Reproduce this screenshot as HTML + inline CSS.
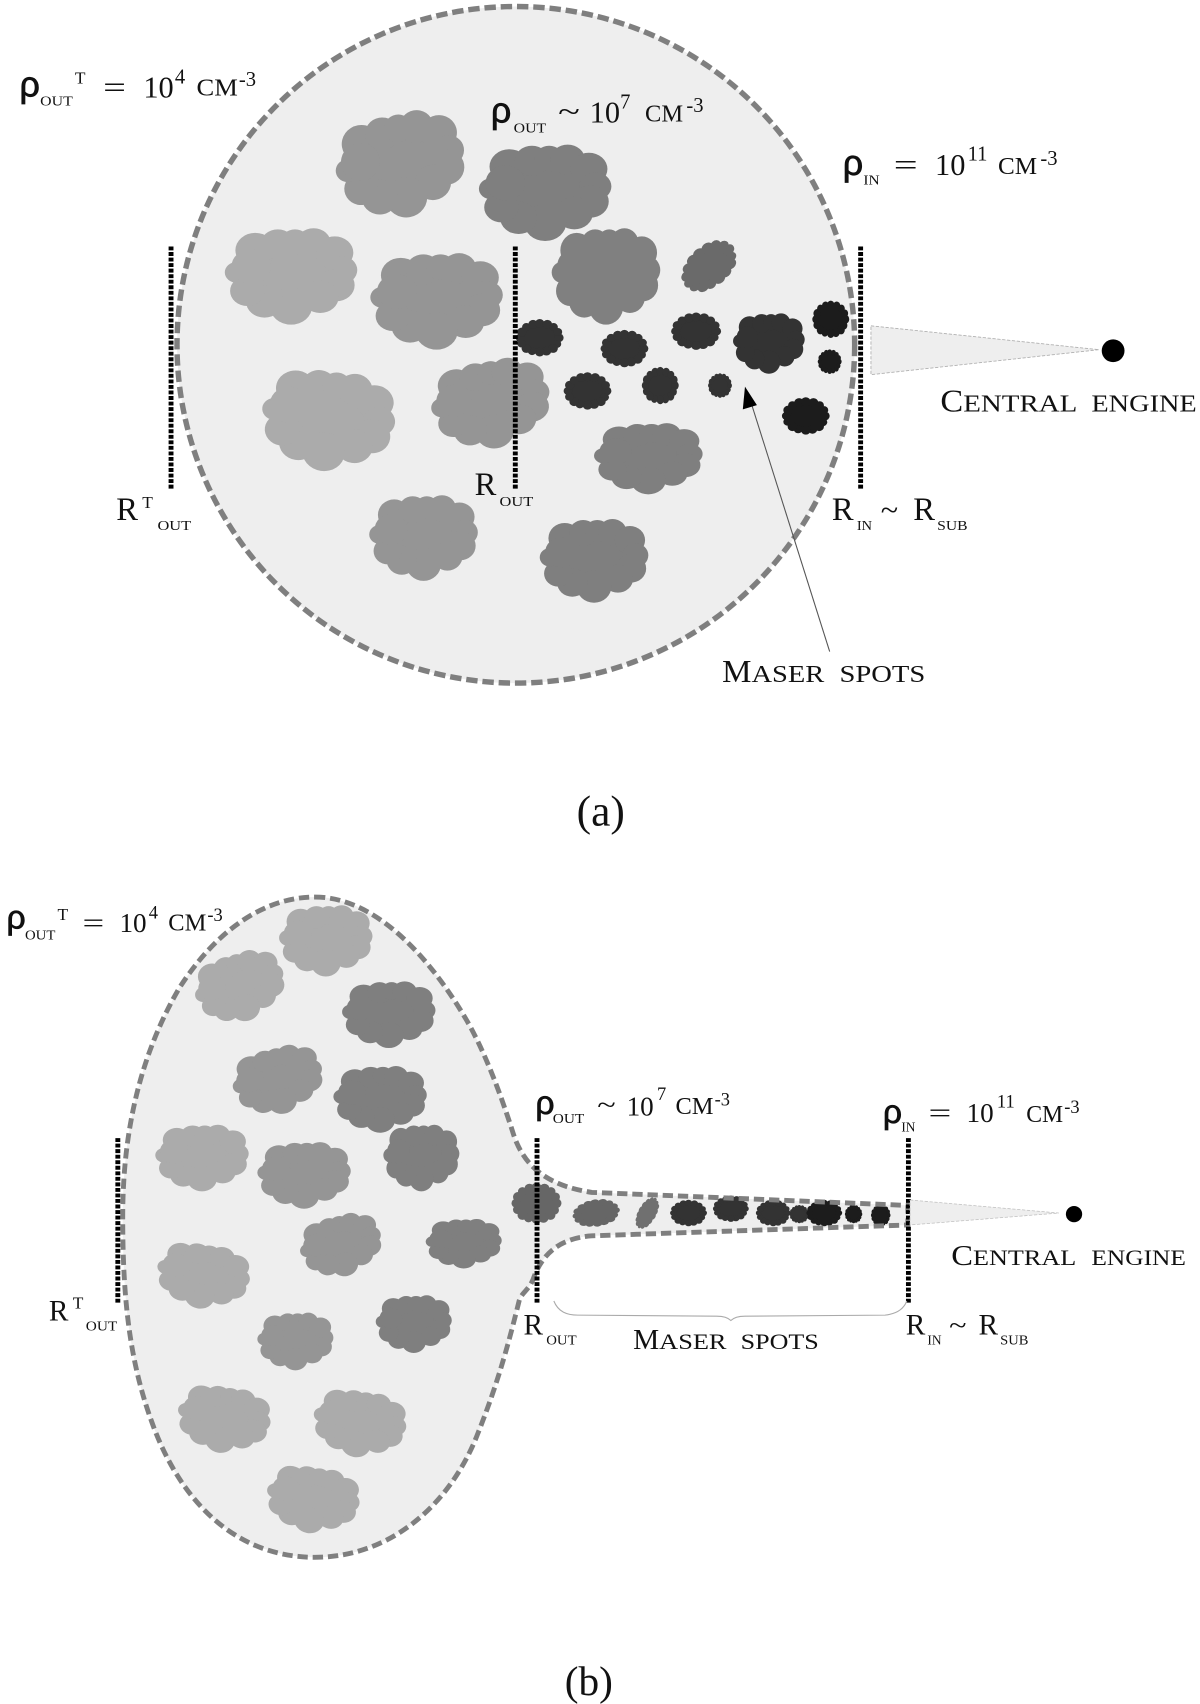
<!DOCTYPE html>
<html><head><meta charset="utf-8"><title>Diagram</title>
<style>
html,body{margin:0;padding:0;background:#fff}
svg{display:block}
text{font-family:"Liberation Serif",serif;fill:#111}
.r{font-family:"Liberation Sans",sans-serif;font-size:33px;stroke:#111;stroke-width:.7}
.s{font-size:13px}
.n{font-size:28px}
.k{font-size:25px}
.u{font-size:19px}
.cm{font-size:22px}
.m{font-size:16px}
</style></head><body>
<svg xmlns="http://www.w3.org/2000/svg" width="1200" height="1704" viewBox="0 0 1105 1569.1">
<defs>
<g id="c"><ellipse cx="0" cy="0" rx="40" ry="32"/><circle cx="-27" cy="-22" r="15"/><circle cx="-10" cy="-27" r="13"/><circle cx="3" cy="-29" r="11"/><circle cx="17" cy="-28" r="13"/><circle cx="33" cy="-20" r="14"/><circle cx="38" cy="-5" r="12"/><circle cx="34" cy="8" r="14"/><circle cx="22" cy="18" r="14"/><circle cx="0" cy="26" r="16"/><circle cx="-20" cy="22" r="14"/><circle cx="-33" cy="13" r="13"/><circle cx="-41" cy="-3" r="9"/><circle cx="-30" cy="-8" r="15"/></g>
<g id="d"><ellipse cx="0" cy="0" rx="42" ry="34"/><circle cx="40" cy="0" r="10"/><circle cx="36" cy="14" r="9"/><circle cx="28" cy="24" r="10"/><circle cx="14" cy="30" r="10"/><circle cx="0" cy="32" r="10"/><circle cx="-16" cy="30" r="9"/><circle cx="-28" cy="24" r="10"/><circle cx="-38" cy="13" r="9"/><circle cx="-41" cy="0" r="9"/><circle cx="-37" cy="-13" r="10"/><circle cx="-28" cy="-24" r="9"/><circle cx="-14" cy="-30" r="10"/><circle cx="0" cy="-32" r="10"/><circle cx="16" cy="-30" r="10"/><circle cx="29" cy="-24" r="9"/><circle cx="38" cy="-13" r="9"/></g>
</defs>

<!-- PANEL A -->
<ellipse cx="475" cy="317.5" rx="312" ry="311.5" fill="#eeeeee"/>
<use href="#c" transform="translate(369,152) rotate(-10) scale(1.2,1.16)" fill="#959595"/>
<use href="#c" transform="translate(502,177) scale(1.22,1.07)" fill="#7f7f7f"/>
<use href="#c" transform="translate(268,254) scale(1.22,1.07)" fill="#ababab"/>
<use href="#c" transform="translate(402,277) scale(1.22,1.07)" fill="#959595"/>
<use href="#c" transform="translate(558,254) scale(1,1.07)" fill="#808080"/>
<use href="#d" transform="translate(653,245) rotate(-40) scale(.58,.46)" fill="#6a6a6a"/>
<use href="#c" transform="translate(302,387) rotate(8) scale(1.23,1.12)" fill="#ababab"/>
<use href="#c" transform="translate(452,372) rotate(-8) scale(1.1,.98)" fill="#959595"/>
<use href="#c" transform="translate(597,422) scale(1,.79)" fill="#7f7f7f"/>
<use href="#c" transform="translate(390,495) scale(1,.95)" fill="#959595"/>
<use href="#c" transform="translate(547,516) scale(1,.93)" fill="#7f7f7f"/>
<use href="#d" transform="translate(497,311) scale(.44,.41)" fill="#333"/>
<use href="#d" transform="translate(575,321) scale(.44,.41)" fill="#333"/>
<use href="#d" transform="translate(641,305) scale(.46,.41)" fill="#333"/>
<use href="#c" transform="translate(708,316) scale(.66,.67)" fill="#333"/>
<use href="#d" transform="translate(765,294) scale(.34,.41)" fill="#1c1c1c"/>
<use href="#d" transform="translate(764,333) scale(.22,.27)" fill="#1c1c1c"/>
<use href="#d" transform="translate(742,383) scale(.44,.41)" fill="#1c1c1c"/>
<use href="#d" transform="translate(541,360) scale(.44,.41)" fill="#333"/>
<use href="#d" transform="translate(608,355) scale(.34,.41)" fill="#333"/>
<use href="#d" transform="translate(663,355) scale(.22,.27)" fill="#333"/>
<ellipse cx="475" cy="317.5" rx="312" ry="311.5" fill="none" stroke="#7f7f7f" stroke-width="5" stroke-dasharray="10.5 4.5"/>
<g stroke="#000" stroke-width="4.5" stroke-dasharray="3.6 1.5" fill="none">
<line x1="157.5" y1="227" x2="157.5" y2="450"/><line x1="474.5" y1="227" x2="474.5" y2="450"/><line x1="792.5" y1="227" x2="792.5" y2="450"/>
</g>
<polygon points="802,300 1012,322 802,345" fill="#eeeeee" stroke="#b0b0b0" stroke-width=".8" stroke-dasharray="3 1.5"/>
<circle cx="1025" cy="323" r="10.5" fill="#000"/>
<line x1="764" y1="600" x2="692" y2="372" stroke="#555" stroke-width="1"/>
<polygon points="686,356 697,373 684,377" fill="#000"/>

<text x="18" y="89" class="r">ρ</text><text x="37" y="97" class="s" textLength="30" lengthAdjust="spacingAndGlyphs">OUT</text><text x="69" y="77" class="m">T</text><text x="95" y="90" class="n" textLength="21" lengthAdjust="spacingAndGlyphs">=</text><text x="132" y="90" class="n">10</text><text x="161" y="77" class="u">4</text><text x="181" y="88" class="cm" textLength="38" lengthAdjust="spacingAndGlyphs">CM</text><text x="220" y="79" class="u">-3</text>
<text x="452" y="113" class="r">ρ</text><text x="473" y="122" class="s" textLength="30" lengthAdjust="spacingAndGlyphs">OUT</text><text x="514" y="112" class="n" textLength="20" lengthAdjust="spacingAndGlyphs">~</text><text x="543" y="113" class="n">10</text><text x="571" y="100" class="u">7</text><text x="594" y="112" class="cm" textLength="35" lengthAdjust="spacingAndGlyphs">CM</text><text x="632" y="103" class="u">-3</text>
<text x="776" y="161" class="r">ρ</text><text x="795" y="170" class="s" textLength="15" lengthAdjust="spacingAndGlyphs">IN</text><text x="823" y="161" class="n" textLength="22" lengthAdjust="spacingAndGlyphs">=</text><text x="861" y="161" class="n">10</text><text x="891" y="148" class="u">11</text><text x="919" y="160" class="cm" textLength="36" lengthAdjust="spacingAndGlyphs">CM</text><text x="958" y="152" class="u">-3</text>

<text x="866" y="379" font-size="29" textLength="21" lengthAdjust="spacingAndGlyphs">C</text><text x="887" y="379" font-size="22" textLength="105" lengthAdjust="spacingAndGlyphs">ENTRAL</text><text x="1005" y="379" font-size="22" textLength="97" lengthAdjust="spacingAndGlyphs">ENGINE</text>
<text x="107" y="479" font-size="30">R</text><text x="131" y="468" class="m">T</text><text x="145" y="488" class="s" textLength="31" lengthAdjust="spacingAndGlyphs">OUT</text>
<text x="437" y="456" font-size="30">R</text><text x="460" y="466" class="s" textLength="31" lengthAdjust="spacingAndGlyphs">OUT</text>
<text x="766" y="479" font-size="30">R</text><text x="789" y="488" class="s" textLength="14" lengthAdjust="spacingAndGlyphs">IN</text><text x="811" y="479" class="n" textLength="16" lengthAdjust="spacingAndGlyphs">~</text><text x="841" y="479" font-size="30">R</text><text x="863" y="488" class="s" textLength="28" lengthAdjust="spacingAndGlyphs">SUB</text>
<text x="665" y="628" font-size="29" textLength="27" lengthAdjust="spacingAndGlyphs">M</text><text x="692" y="628" font-size="22" textLength="67" lengthAdjust="spacingAndGlyphs">ASER</text><text x="773" y="628" font-size="22" textLength="79" lengthAdjust="spacingAndGlyphs">SPOTS</text>
<text x="531" y="760" font-size="40">(a)</text>

<!-- PANEL B -->
<path d="M290,826 C345,826 395,880 430,940 C450,975 465,1020 473,1045 C483,1075 505,1092 545,1098 L836,1110 L836,1128 L545,1138 C515,1140 500,1155 492,1175 C488,1188 480,1190 478,1198 C470,1230 460,1270 440,1320 C415,1385 360,1434 290,1434 C215,1434 165,1380 140,1310 C118,1250 113,1190 113,1120 C113,1040 130,970 165,910 C200,855 245,826 290,826 Z" fill="#eeeeee"/>
<use href="#c" transform="translate(300,866) scale(.86,.79)" fill="#ababab"/>
<use href="#c" transform="translate(221,909) rotate(-15) scale(.84,.76)" fill="#ababab"/>
<use href="#c" transform="translate(358,934) scale(.86,.74)" fill="#7f7f7f"/>
<use href="#c" transform="translate(256,995) rotate(-12) scale(.84,.74)" fill="#959595"/>
<use href="#c" transform="translate(350,1012) scale(.86,.74)" fill="#7f7f7f"/>
<use href="#c" transform="translate(186,1066) scale(.86,.74)" fill="#ababab"/>
<use href="#c" transform="translate(280,1082) scale(.86,.74)" fill="#959595"/>
<use href="#c" transform="translate(388,1066) scale(.7,.74)" fill="#7f7f7f"/>
<use href="#c" transform="translate(314,1147) rotate(-12) scale(.76,.68)" fill="#959595"/>
<use href="#c" transform="translate(427,1145) scale(.7,.55)" fill="#7f7f7f"/>
<use href="#c" transform="translate(187,1175) rotate(10) scale(.86,.72)" fill="#ababab"/>
<use href="#c" transform="translate(272,1235) scale(.7,.64)" fill="#959595"/>
<use href="#c" transform="translate(381,1219) scale(.7,.64)" fill="#7f7f7f"/>
<use href="#c" transform="translate(206,1307) rotate(10) scale(.86,.74)" fill="#ababab"/>
<use href="#c" transform="translate(331,1311) rotate(10) scale(.86,.74)" fill="#ababab"/>
<use href="#c" transform="translate(288,1381) rotate(10) scale(.86,.74)" fill="#ababab"/>
<use href="#d" transform="translate(494,1108) scale(.46,.45)" fill="#666"/>
<use href="#d" transform="translate(549,1117) rotate(-8) scale(.44,.3)" fill="#666"/>
<use href="#d" transform="translate(596,1117) rotate(-60) scale(.32,.2)" fill="#707070"/>
<use href="#d" transform="translate(634,1117) scale(.34,.29)" fill="#333"/>
<use href="#d" transform="translate(673,1113) scale(.33,.29)" fill="#333"/>
<use href="#d" transform="translate(712,1117) scale(.32,.29)" fill="#333"/>
<use href="#d" transform="translate(736,1118) scale(.18,.2)" fill="#333"/>
<use href="#d" transform="translate(759,1117) scale(.33,.29)" fill="#1c1c1c"/>
<use href="#d" transform="translate(786,1118) scale(.16,.2)" fill="#1c1c1c"/>
<use href="#d" transform="translate(811,1119) scale(.18,.24)" fill="#1c1c1c"/>
<path d="M290,826 C345,826 395,880 430,940 C450,975 465,1020 473,1045 C483,1075 505,1092 545,1098 L836,1110 L836,1128 L545,1138 C515,1140 500,1155 492,1175 C488,1188 480,1190 478,1198 C470,1230 460,1270 440,1320 C415,1385 360,1434 290,1434 C215,1434 165,1380 140,1310 C118,1250 113,1190 113,1120 C113,1040 130,970 165,910 C200,855 245,826 290,826 Z" fill="none" stroke="#7f7f7f" stroke-width="4.5" stroke-dasharray="9.5 4.5"/>
<g stroke="#000" stroke-width="4.5" stroke-dasharray="3.6 1.5" fill="none">
<line x1="108.5" y1="1048" x2="108.5" y2="1200"/><line x1="494.5" y1="1048" x2="494.5" y2="1200"/><line x1="836.5" y1="1048" x2="836.5" y2="1200"/>
</g>
<polygon points="838,1105 975,1117 838,1128" fill="#eeeeee" stroke="#c0c0c0" stroke-width=".7" stroke-dasharray="3 1.5"/>
<circle cx="989" cy="1118" r="7.5" fill="#000"/>
<path d="M510,1198 C514,1208 522,1211 532,1211 L660,1212 C668,1212 671,1214 673,1216 C675,1214 678,1212 686,1212 L815,1211 C825,1210 832,1206 835,1198" fill="none" stroke="#aaa" stroke-width="1"/>

<text x="6" y="855" class="r" style="font-size:31px">ρ</text><text x="23" y="865" class="s" textLength="28" lengthAdjust="spacingAndGlyphs">OUT</text><text x="53" y="847" class="m">T</text><text x="76" y="858" class="k" textLength="20" lengthAdjust="spacingAndGlyphs">=</text><text x="110" y="858" class="k">10</text><text x="137" y="846" class="u" style="font-size:17px">4</text><text x="155" y="857" class="cm" textLength="35" lengthAdjust="spacingAndGlyphs">CM</text><text x="191" y="848" class="u" style="font-size:17px">-3</text>
<text x="493" y="1026" class="r" style="font-size:31px">ρ</text><text x="509" y="1034" class="s" textLength="29" lengthAdjust="spacingAndGlyphs">OUT</text><text x="550" y="1026" class="k" textLength="17" lengthAdjust="spacingAndGlyphs">~</text><text x="577" y="1027" class="k">10</text><text x="605" y="1013" class="u" style="font-size:17px">7</text><text x="622" y="1026" class="cm" textLength="35" lengthAdjust="spacingAndGlyphs">CM</text><text x="658" y="1018" class="u" style="font-size:17px">-3</text>
<text x="813" y="1034" class="r" style="font-size:31px">ρ</text><text x="830" y="1042" class="s" textLength="13" lengthAdjust="spacingAndGlyphs">IN</text><text x="855" y="1033" class="k" textLength="21" lengthAdjust="spacingAndGlyphs">=</text><text x="890" y="1033" class="k">10</text><text x="918" y="1020" class="u" style="font-size:17px">11</text><text x="945" y="1033" class="cm" textLength="34" lengthAdjust="spacingAndGlyphs">CM</text><text x="980" y="1025" class="u" style="font-size:17px">-3</text>

<text x="876" y="1165" font-size="26" textLength="20" lengthAdjust="spacingAndGlyphs">C</text><text x="896" y="1165" font-size="20" textLength="95" lengthAdjust="spacingAndGlyphs">ENTRAL</text><text x="1005" y="1165" font-size="20" textLength="87" lengthAdjust="spacingAndGlyphs">ENGINE</text>
<text x="45" y="1216" font-size="27">R</text><text x="67" y="1205" class="m">T</text><text x="79" y="1225" class="s" textLength="29" lengthAdjust="spacingAndGlyphs">OUT</text>
<text x="482" y="1229" font-size="27">R</text><text x="503" y="1238" class="s" textLength="28" lengthAdjust="spacingAndGlyphs">OUT</text>
<text x="583" y="1242" font-size="26" textLength="24" lengthAdjust="spacingAndGlyphs">M</text><text x="607" y="1242" font-size="20" textLength="62" lengthAdjust="spacingAndGlyphs">ASER</text><text x="682" y="1242" font-size="20" textLength="72" lengthAdjust="spacingAndGlyphs">SPOTS</text>
<text x="834" y="1229" font-size="27">R</text><text x="854" y="1238" class="s" textLength="13" lengthAdjust="spacingAndGlyphs">IN</text><text x="874" y="1229" class="k" textLength="16" lengthAdjust="spacingAndGlyphs">~</text><text x="901" y="1229" font-size="27">R</text><text x="921" y="1238" class="s" textLength="26" lengthAdjust="spacingAndGlyphs">SUB</text>
<text x="520" y="1561" font-size="38">(b)</text>
</svg>
</body></html>
